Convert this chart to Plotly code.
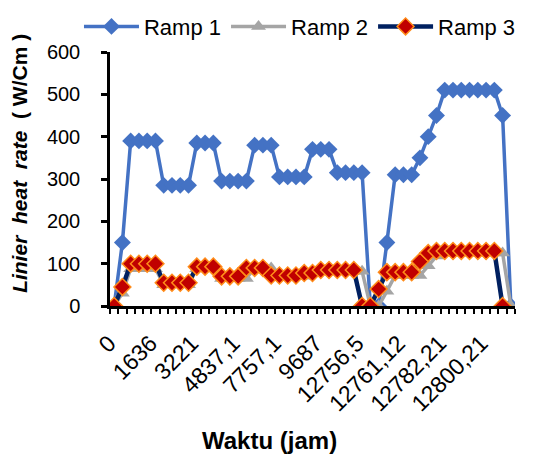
import plotly.graph_objects as go

# sample index (category positions) and the labels shown every 5th category
n_points = 49
tick_every = 5
tick_labels = ["0", "1636", "3221", "4837,1", "7757,1", "9687",
               "12756,5", "12761,12", "12782,21", "12800,21"]

ramp1 = [0, 150, 390, 390, 390, 390, 285, 285, 285, 285, 385, 385, 385,
         295, 295, 295, 295, 380, 380, 380, 305, 305, 305, 305, 370, 370, 370,
         315, 315, 315, 315, 0, 0, 150, 310, 310, 310, 350, 400, 450,
         510, 510, 510, 510, 510, 510, 510, 450, 0]
ramp2 = [0, 30, 88, 88, 88, 88, 50, 50, 50, 50, 88, 88, 88,
         65, 65, 65, 65, 90, 90, 90, 70, 70, 70, 70, 82, 82, 82,
         82, 82, 82, 82, 0, 0, 35, 72, 72, 72, 72, 95, 118,
         125, 125, 125, 125, 125, 125, 125, 125, 0]
ramp3 = [0, 45, 100, 100, 100, 100, 55, 55, 55, 55, 93, 93, 93,
         70, 70, 70, 90, 90, 90, 72, 72, 72, 72, 78, 78, 85,
         85, 85, 85, 85, 0, 0, 40, 80, 80, 80, 80, 105, 125,
         130, 130, 130, 130, 130, 130, 130, 130, 0, None]

x = list(range(n_points))
tickvals = x[::tick_every]

FONT = "Arial, Liberation Sans, sans-serif"

fig = go.Figure()
fig.add_trace(go.Scatter(
    x=x, y=ramp1, name="Ramp 1", mode="lines+markers",
    line=dict(color="#4472C4", width=3.5),
    marker=dict(symbol="diamond", size=13, color="#4472C4"),
))
fig.add_trace(go.Scatter(
    x=x, y=ramp2, name="Ramp 2", mode="lines+markers",
    line=dict(color="#A5A5A5", width=3.5),
    marker=dict(symbol="triangle-up", size=13, color="#A5A5A5"),
))
fig.add_trace(go.Scatter(
    x=x, y=ramp3, name="Ramp 3", mode="lines+markers",
    line=dict(color="#002060", width=4.5),
    marker=dict(symbol="diamond", size=13, color="#C00000",
                line=dict(color="#FF8C1A", width=1.5)),
))

fig.update_layout(
    template="none",
    width=541, height=459,
    margin=dict(l=0, r=34, t=0, b=161, autoexpand=False),
    paper_bgcolor="white", plot_bgcolor="white",
    font=dict(family=FONT, size=20, color="black"),
    showlegend=True,
    legend=dict(orientation="h", x=0.140, y=1.008, xanchor="left", yanchor="top",
                font=dict(size=22), itemwidth=55, tracegroupgap=0,
                bgcolor="rgba(0,0,0,0)"),
    xaxis=dict(
        domain=[0.2012, 1.0], automargin=False,
        range=[-0.5, n_points - 0.5],
        tickmode="array", tickvals=tickvals, ticktext=tick_labels,
        tickangle=-45, showgrid=False, zeroline=False,
        showline=True, linecolor="black", linewidth=2.5,
        ticks="", tickfont=dict(size=23), ticklabelstandoff=12,
        ticklabelshift=-5,
        minor=dict(tickmode="linear", tick0=-0.5, dtick=1,
                   ticks="outside", ticklen=5, tickwidth=2,
                   tickcolor="black", showgrid=False),
    ),
    yaxis=dict(
        domain=[0, 0.8523], automargin=False,
        range=[0, 600], dtick=100, showgrid=False, zeroline=False,
        showline=True, linecolor="black", linewidth=2.5,
        ticks="outside", ticklen=6, tickwidth=2.5, tickcolor="black",
        tickfont=dict(size=20), ticklabelstandoff=17,
    ),
)

fig.add_annotation(
    text="<b><i>Linier&nbsp;&nbsp;heat&nbsp;&nbsp;rate</i>&nbsp;&nbsp;( W/Cm )</b>",
    xref="x domain", yref="y domain", x=-0.222, y=0.56,
    xanchor="center", yanchor="middle", textangle=-90, showarrow=False,
    font=dict(size=21),
)
fig.add_annotation(
    text="<b>Waktu (jam)</b>",
    xref="x domain", yref="y domain", x=0.394, y=-0.528,
    xanchor="center", yanchor="middle", showarrow=False,
    font=dict(size=24),
)

fig.write_html("out.html")
